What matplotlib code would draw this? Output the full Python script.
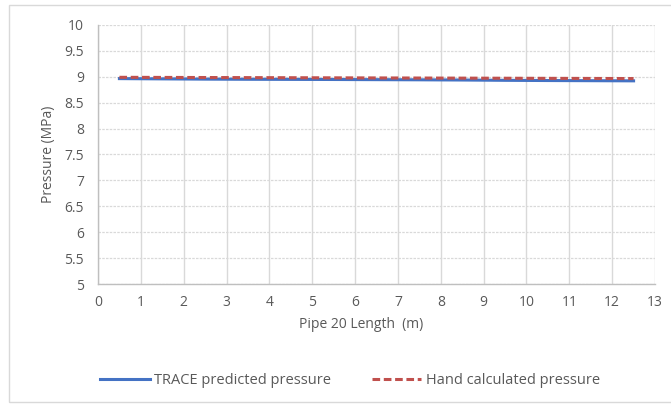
import matplotlib.pyplot as plt
import matplotlib.ticker as mticker
from matplotlib.patches import Rectangle

# Pipe 20 cell centres and pressures
length_m = [0.5, 1.5, 2.5, 3.5, 4.5, 5.5, 6.5, 7.5, 8.5, 9.5, 10.5, 11.5, 12.5]
trace_mpa = [8.965, 8.96, 8.955, 8.952, 8.95, 8.948, 8.945, 8.942, 8.938, 8.932, 8.928, 8.925, 8.922]
hand_mpa = [8.99, 8.988, 8.986, 8.984, 8.982, 8.98, 8.978, 8.976, 8.974, 8.972, 8.97, 8.968, 8.966]

x_ticks = list(range(0, 14))
y_ticks = [5, 5.5, 6, 6.5, 7, 7.5, 8, 8.5, 9, 9.5, 10]
y_tick_labels = ['5', '5.5', '6', '6.5', '7', '7.5', '8', '8.5', '9', '9.5', '10']

plt.rcParams['font.family'] = ['Open Sans', 'DejaVu Sans']
text_color = '#595959'
grid_color = '#d9d9d9'

fig = plt.figure(figsize=(6.71, 4.04), dpi=100)
fig.patches.append(Rectangle((9 / 671, 0.006), 1.0, 1 - 5 / 404 - 0.006,
                             transform=fig.transFigure, fill=False,
                             edgecolor='#d9d9d9', linewidth=1.0))

ax = fig.add_axes([98 / 671, 1 - 284 / 404, (655 - 98) / 671, (284 - 25) / 404])

ax.plot(length_m, trace_mpa, color='#4472c4', linewidth=2.2,
        label='TRACE predicted pressure', zorder=3)
ax.plot(length_m, hand_mpa, color='#c0504d', linewidth=2.2, linestyle=(0, (2.5, 1.2)),
        label='Hand calculated pressure', zorder=4)

ax.set_xlim(0, 13)
ax.set_ylim(5, 10)
ax.xaxis.set_major_locator(mticker.FixedLocator(x_ticks))
ax.set_yticks(y_ticks)
ax.set_yticklabels(y_tick_labels)

ax.grid(True, axis='x', color=grid_color, linewidth=1.0)
ax.grid(True, axis='y', color=grid_color, linewidth=0.9, linestyle=(0, (2, 1)))
ax.set_axisbelow(True)

for side in ['top', 'right']:
    ax.spines[side].set_visible(False)
for side in ['left', 'bottom']:
    ax.spines[side].set_color('#bfbfbf')
    ax.spines[side].set_linewidth(1.0)

ax.tick_params(length=0, colors=text_color, labelsize=10, pad=8)
ax.tick_params(axis='y', pad=10)

ax.set_ylabel('Pressure (MPa)', color=text_color, fontsize=10, labelpad=6)
fig.text(361 / 671, 1 - 324 / 404, 'Pipe 20 Length  (m)', color=text_color,
         fontsize=10, ha='center', va='center')

leg = fig.legend(*ax.get_legend_handles_labels(), loc='center',
                 bbox_to_anchor=(350 / 671, 1 - 381 / 404), ncol=2, frameon=False,
                 fontsize=10.5, handlelength=3.4, columnspacing=2.8, handletextpad=0.3)
for t in leg.get_texts():
    t.set_color(text_color)

fig.savefig('out.png', dpi=100)
